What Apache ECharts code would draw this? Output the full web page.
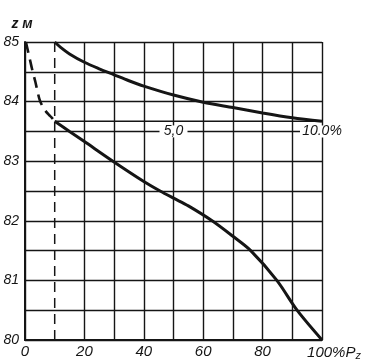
<!DOCTYPE html>
<html>
<head>
<meta charset="utf-8">
<script src="https://cdn.jsdelivr.net/npm/echarts@6/dist/echarts.min.js"></script>
<style>
html,body{margin:0;padding:0;background:#fff;}
#chart{width:372px;height:362px;}
</style>
</head>
<body>
<div id="chart"></div>
<script>
// X axis: percent of P_z
const xTicks = [0, 10, 20, 30, 40, 50, 60, 70, 80, 90, 100];
const xTickLabels = {0: '0', 20: '20', 40: '40', 60: '60', 80: '80', 100: '100%P'};
// Y axis: z, m
const yTickLabels = ['80', '81', '82', '83', '84', '85'];
const yAxisName = 'z м';

// Upper solid curve
const upperX = [10, 12, 15, 20, 25, 30, 35, 40, 50, 60, 70, 80, 90, 100];
const upperZ = [85.0, 84.91, 84.80, 84.66, 84.55, 84.45, 84.35, 84.26, 84.11, 83.99, 83.9, 83.81, 83.73, 83.67];

// Lower solid curve
const lowerX = [10, 15, 20, 29.6, 40, 45.5, 50, 55, 63, 70, 76, 84.8, 91.6, 100];
const lowerZ = [83.67, 83.5, 83.33, 83.0, 82.66, 82.5, 82.38, 82.25, 82.0, 81.74, 81.5, 81.0, 80.5, 80.0];

// Dashed curve (0..10 %)
const dashX = [0.3, 1.5, 2.5, 3.5, 4.3, 5.0, 5.8, 6.8, 8.0, 9.0, 10];
const dashZ = [85.0, 84.74, 84.52, 84.33, 84.15, 84.02, 83.93, 83.85, 83.78, 83.73, 83.67];

// Vertical dashed line at 10 %
const dashLineX = 10;
// Horizontal level line
const levelZ = 83.67;
const levelFrom = 10, levelTo = 100;

// Secondary scale labels on the 83.5 line
const scaleLabelX = [50, 100];
const scaleLabelZ = 83.5;
const scaleLabelText = ['5,0', '10.0%'];

const zip = (a, b) => a.map((v, i) => [v, b[i]]);

const ink = '#151515';
const font = 'Liberation Sans';

const xSplitColors = xTicks.map(v => v === dashLineX ? 'rgba(0,0,0,0)' : ink);

const chart = echarts.init(document.getElementById('chart'));
chart.setOption({
  backgroundColor: '#fff',
  animation: false,
  grid: {left: 25, right: 50, top: 42, bottom: 22, containLabel: false},
  xAxis: {
    type: 'value', min: 0, max: 100, interval: 10,
    axisLine: {show: true, lineStyle: {color: ink, width: 2}},
    axisTick: {show: false},
    splitLine: {show: true, lineStyle: {color: xSplitColors, width: 1.4}},
    axisLabel: {
      margin: 4,
      formatter: v => {
        const t = xTickLabels[v];
        if (t === undefined) return '';
        if (v === 100) return '{p|' + t + '}{s|z}';
        return t;
      },
      color: ink, fontFamily: font, fontStyle: 'italic', fontSize: 15,
      rich: {
        p: {fontFamily: font, fontStyle: 'italic', fontSize: 15, color: ink, padding: [0, 0, 0, 24]},
        s: {fontFamily: font, fontStyle: 'italic', fontSize: 11, color: ink, padding: [6, 0, 0, 0]}
      }
    }
  },
  yAxis: {
    type: 'value', min: 80, max: 85, interval: 0.5,
    name: yAxisName, nameLocation: 'end', nameGap: 11, nameMoveOverlap: false,
    nameTextStyle: {color: ink, fontFamily: font, fontStyle: 'italic', fontWeight: 'bold', fontSize: 14, align: 'center', padding: [0, 6, 0, 0]},
    axisLine: {show: true, lineStyle: {color: ink, width: 2}},
    axisTick: {show: false},
    splitLine: {show: true, lineStyle: {color: ink, width: 1.4}},
    axisLabel: {
      margin: 6,
      formatter: v => {
        const s = String(v);
        return yTickLabels.indexOf(s) >= 0 ? s : '';
      },
      color: ink, fontFamily: font, fontStyle: 'italic', fontSize: 14
    }
  },
  series: [
    {
      type: 'line', data: [[dashLineX, 80], [dashLineX, 85]], symbol: 'none',
      lineStyle: {color: ink, width: 1.5, type: [10, 6]}, z: 3
    },
    {
      type: 'line', data: [[levelFrom, levelZ], [levelTo, levelZ]], symbol: 'none',
      lineStyle: {color: ink, width: 1.5}, z: 3
    },
    {
      type: 'line', data: zip(upperX, upperZ), symbol: 'none', smooth: 0.3,
      lineStyle: {color: ink, width: 3}, z: 4
    },
    {
      type: 'line', data: zip(lowerX, lowerZ), symbol: 'none', smooth: 0.3,
      lineStyle: {color: ink, width: 3}, z: 4
    },
    {
      type: 'line', data: zip(dashX, dashZ), symbol: 'none', smooth: 0.3,
      lineStyle: {color: ink, width: 2.6, type: [11, 7]}, z: 4
    },
    {
      type: 'scatter', z: 5, symbol: 'rect',
      symbolSize: (val) => [String(val[2]).length * 8 + 4, 12],
      itemStyle: {color: '#fff', opacity: 1},
      data: scaleLabelX.map((x, i) => [x, scaleLabelZ, scaleLabelText[i]]),
      label: {
        show: true, position: 'inside',
        formatter: p => p.data[2],
        color: ink, fontFamily: font, fontStyle: 'italic', fontSize: 14
      },
      emphasis: {disabled: true}
    }
  ]
});
</script>
</body>
</html>
